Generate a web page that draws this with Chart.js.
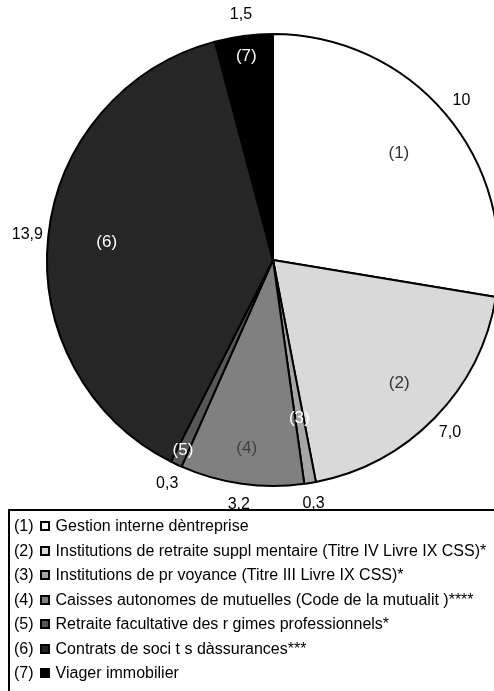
<!DOCTYPE html>
<html>
<head>
<meta charset="utf-8">
<script src="https://cdn.jsdelivr.net/npm/chart.js@4/dist/chart.umd.min.js"></script>
<style>
  html, body { margin: 0; padding: 0; overflow: hidden; background: #fff; }
  #wrap { position: relative; width: 494px; height: 691px; overflow: hidden; }
  #pie { position: absolute; left: 0; top: 0; }
  #legend {
    position: absolute; left: 8px; top: 509px; width: 520px; height: 220px;
    border: 2px solid #000; box-sizing: border-box;
    font-family: 'Liberation Sans', Arial, sans-serif; font-size: 16px; color: #000;
    padding-top: 3px;
  }
  .row { height: 24.5px; display: flex; align-items: center; white-space: nowrap; padding-left: 4px; }
  .sw { display: inline-block; box-sizing: border-box; width: 10px; height: 10px; border: 2px solid #000; margin: 0 6px 0 6px; }
</style>
</head>
<body>
<div id="wrap">
  <canvas id="pie" width="546" height="510"></canvas>
  <div id="legend"></div>
</div>
<script>
// Slice identifiers, values and display strings
const codes = ['(1)', '(2)', '(3)', '(4)', '(5)', '(6)', '(7)'];
const values = [10, 7.0, 0.3, 3.2, 0.3, 13.9, 1.5];
const valueLabels = ['10', '7,0', '0,3', '3,2', '0,3', '13,9', '1,5'];
const categories = [
  'Gestion interne dèntreprise',
  'Institutions de retraite suppl mentaire (Titre IV Livre IX CSS)*',
  'Institutions de pr voyance (Titre III Livre IX CSS)*',
  'Caisses autonomes de mutuelles (Code de la mutualit )****',
  'Retraite facultative des r gimes professionnels*',
  'Contrats de soci t s dàssurances***',
  'Viager immobilier'
];

// Styling
const fills = ['#ffffff', '#d9d9d9', '#a6a6a6', '#808080', '#575757', '#262626', '#000000'];
const codeColors = ['#333333', '#333333', '#ffffff', '#404040', '#ffffff', '#ffffff', '#ffffff'];
const codeRadius = [0.73, 0.78, 0.71, 0.84, 0.93, 0.74, 0.91];

const FONT = "'Liberation Sans', Arial, sans-serif";

const sliceText = {
  id: 'sliceText',
  afterDatasetsDraw(chart) {
    const ctx = chart.ctx;
    const meta = chart.getDatasetMeta(0);
    ctx.save();
    ctx.textAlign = 'center';
    ctx.textBaseline = 'middle';
    meta.data.forEach((arc, i) => {
      const p = arc.getProps(['x', 'y', 'startAngle', 'endAngle', 'outerRadius'], true);
      const mid = (p.startAngle + p.endAngle) / 2;
      const cx = Math.cos(mid), cy = Math.sin(mid);
      // code inside the slice
      ctx.font = '17px ' + FONT;
      ctx.fillStyle = codeColors[i];
      const ri = p.outerRadius * codeRadius[i];
      ctx.fillText(codes[i], p.x + cx * ri, p.y + cy * ri);
      // value outside the slice
      ctx.font = '16px ' + FONT;
      ctx.fillStyle = '#000';
      const ro = p.outerRadius + 21;
      ctx.fillText(valueLabels[i], p.x + cx * ro, p.y + cy * ro);
    });
    ctx.restore();
  }
};

new Chart(document.getElementById('pie'), {
  type: 'pie',
  data: {
    labels: categories,
    datasets: [{
      data: values,
      backgroundColor: fills,
      borderColor: '#000',
      borderWidth: 2
    }]
  },
  options: {
    responsive: false,
    animation: false,
    radius: 226,
    layout: { padding: { top: 34, bottom: 24, left: 0, right: 0 } },
    plugins: { legend: { display: false }, tooltip: { enabled: false } }
  },
  plugins: [sliceText]
});

// Legend rows
const legend = document.getElementById('legend');
categories.forEach((name, i) => {
  const row = document.createElement('div');
  row.className = 'row';
  const code = document.createElement('span');
  code.textContent = codes[i];
  const sw = document.createElement('span');
  sw.className = 'sw';
  sw.style.background = fills[i];
  const txt = document.createElement('span');
  txt.textContent = name;
  row.append(code, sw, txt);
  legend.appendChild(row);
});
</script>
</body>
</html>
